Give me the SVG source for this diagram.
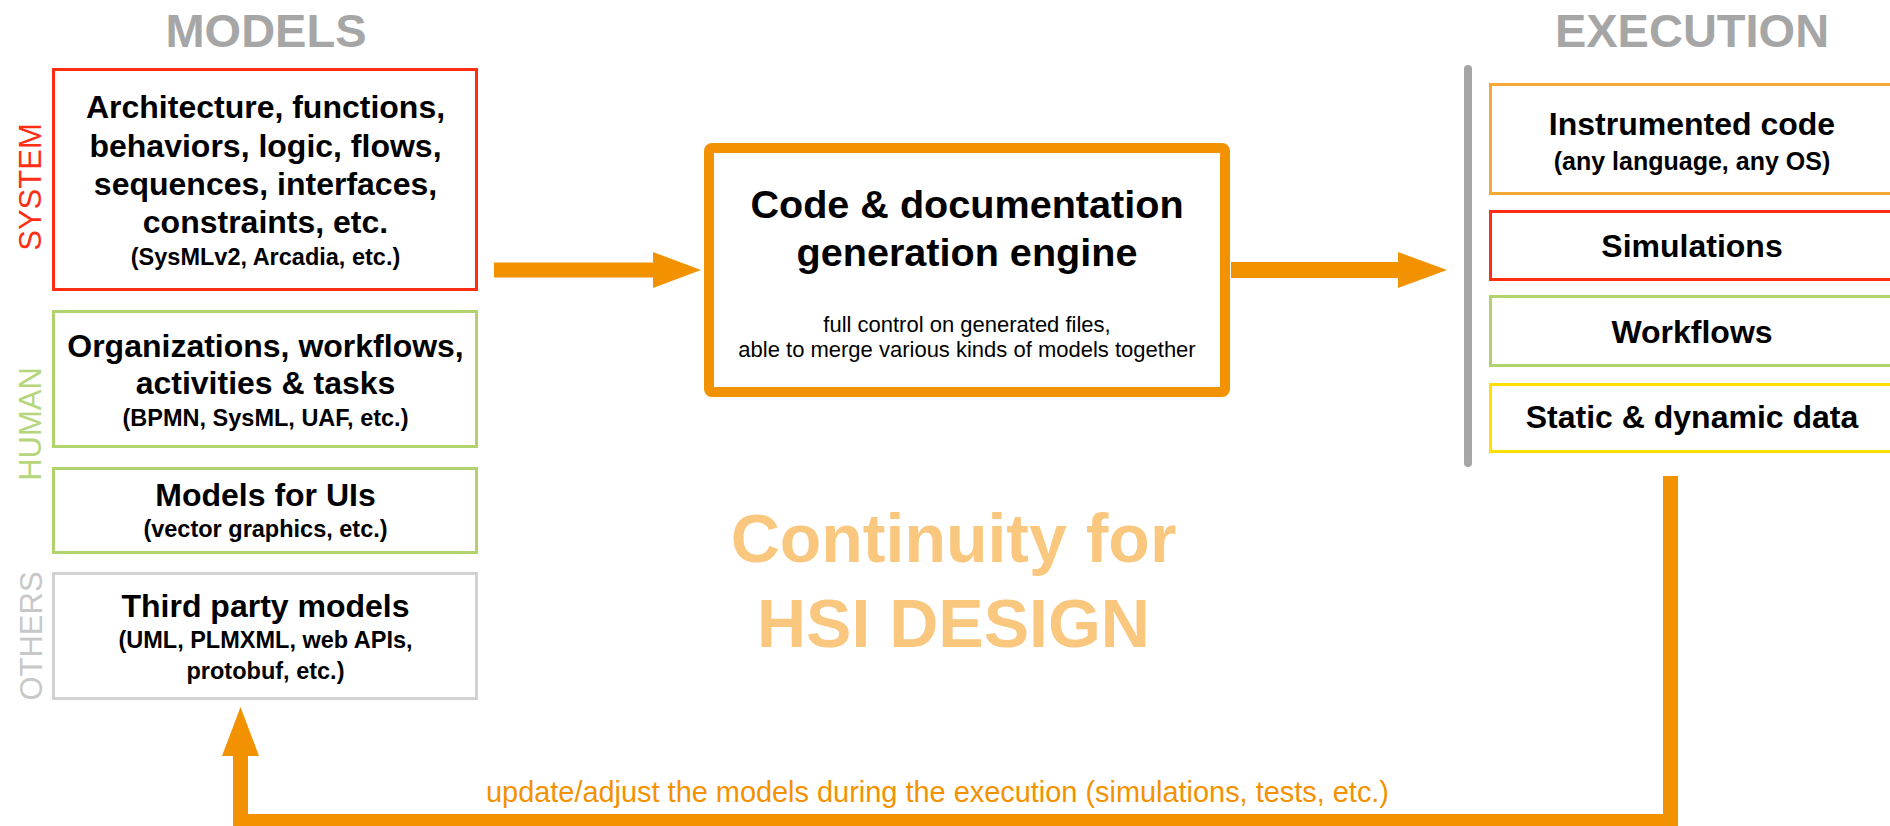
<svg xmlns="http://www.w3.org/2000/svg" width="1890" height="826" viewBox="0 0 1890 826">
  <style>
    text { font-family: "Liberation Sans", Arial, Helvetica, sans-serif; text-anchor: middle; }
    .head { font-size: 47px; font-weight: bold; fill: #A6A6A6; }
    .side { font-size: 31px; }
    .big { font-size: 32px; font-weight: bold; fill: #000; }
    .sub { font-size: 23.5px; font-weight: bold; fill: #000; }
    .box { fill: #fff; stroke-width: 3; }
    .red { stroke: #FF2D12; }
    .green { stroke: #B0D36E; }
    .grey { stroke: #D2D2D2; }
    .amber { stroke: #F5A833; }
    .yellow { stroke: #FFE000; }
    .flow { fill: #F39200; }
  </style>

  <!-- column titles -->
  <text class="head" x="266" y="47">MODELS</text>
  <text class="head" x="1692" y="47">EXECUTION</text>

  <!-- category labels -->
  <text class="side" transform="translate(41,187) rotate(-90)" fill="#FF2D12">SYSTEM</text>
  <text class="side" transform="translate(41,424) rotate(-90)" fill="#B5D67A">HUMAN</text>
  <text class="side" transform="translate(42,636) rotate(-90)" fill="#C8C8C8">OTHERS</text>

  <!-- model sources -->
  <g id="system-models">
    <rect class="box red" x="53.5" y="69.5" width="423" height="220"/>
    <text class="big" x="265.5" y="118">Architecture, functions,</text>
    <text class="big" x="265.5" y="157">behaviors, logic, flows,</text>
    <text class="big" x="265.5" y="195">sequences, interfaces,</text>
    <text class="big" x="265.5" y="233">constraints, etc.</text>
    <text class="sub" x="265.5" y="265">(SysMLv2, Arcadia, etc.)</text>
  </g>
  <g id="human-org-models">
    <rect class="box green" x="53.5" y="311.5" width="423" height="135"/>
    <text class="big" x="265.5" y="357">Organizations, workflows,</text>
    <text class="big" x="265.5" y="394">activities &amp; tasks</text>
    <text class="sub" x="265.5" y="426">(BPMN, SysML, UAF, etc.)</text>
  </g>
  <g id="human-ui-models">
    <rect class="box green" x="53.5" y="468.5" width="423" height="84"/>
    <text class="big" x="265.5" y="506">Models for UIs</text>
    <text class="sub" x="265.5" y="537">(vector graphics, etc.)</text>
  </g>
  <g id="third-party-models">
    <rect class="box grey" x="53.5" y="573.5" width="423" height="125"/>
    <text class="big" x="265.5" y="617">Third party models</text>
    <text class="sub" x="265.5" y="648">(UML, PLMXML, web APIs,</text>
    <text class="sub" x="265.5" y="679">protobuf, etc.)</text>
  </g>

  <!-- generation engine -->
  <g id="engine">
    <rect x="709" y="148" width="516" height="244" rx="3" fill="#fff" stroke="#F39200" stroke-width="10"/>
    <text x="967" y="218" font-size="39.6" font-weight="bold">Code &amp; documentation</text>
    <text x="967" y="266" font-size="39.6" font-weight="bold">generation engine</text>
    <text x="967" y="332" font-size="22">full control on generated files,</text>
    <text x="967" y="357" font-size="22">able to merge various kinds of models together</text>
  </g>

  <!-- execution targets -->
  <line id="execution-bar" x1="1468" y1="69" x2="1468" y2="463" stroke="#A6A6A6" stroke-width="8" stroke-linecap="round"/>
  <g id="instrumented-code">
    <rect class="box amber" x="1490.5" y="84.5" width="404" height="109"/>
    <text class="big" x="1692" y="135">Instrumented code</text>
    <text x="1692" y="170" font-size="25" font-weight="bold">(any language, any OS)</text>
  </g>
  <g id="simulations">
    <rect class="box red" x="1490.5" y="211.5" width="404" height="68"/>
    <text class="big" x="1692" y="257">Simulations</text>
  </g>
  <g id="workflows">
    <rect class="box green" x="1490.5" y="296.5" width="404" height="69"/>
    <text class="big" x="1692" y="343">Workflows</text>
  </g>
  <g id="data">
    <rect class="box yellow" x="1490.5" y="384.5" width="404" height="67"/>
    <text class="big" x="1692" y="428">Static &amp; dynamic data</text>
  </g>

  <!-- connectors -->
  <g id="connectors">
    <polygon class="flow" points="494,262.5 653,262.5 653,252 701,270 653,288 653,277.5 494,277.5"/>
    <polygon class="flow" points="1231,262 1398,262 1398,252 1447,270 1398,288 1398,278 1231,278"/>
    <path d="M1670.5 476 V821.5 H240.5 V754" fill="none" stroke="#F39200" stroke-width="15" stroke-linejoin="miter"/>
    <polygon class="flow" points="222,756 259,756 240.5,707"/>
    <text x="937.5" y="802" font-size="29" fill="#F39200" textLength="903" lengthAdjust="spacingAndGlyphs">update/adjust the models during the execution (simulations, tests, etc.)</text>
  </g>

  <!-- headline -->
  <text x="953.5" y="562" font-size="68" font-weight="bold" fill="#F9C77E">Continuity for</text>
  <text x="953.5" y="647" font-size="68" font-weight="bold" fill="#F9C77E">HSI DESIGN</text>
</svg>
